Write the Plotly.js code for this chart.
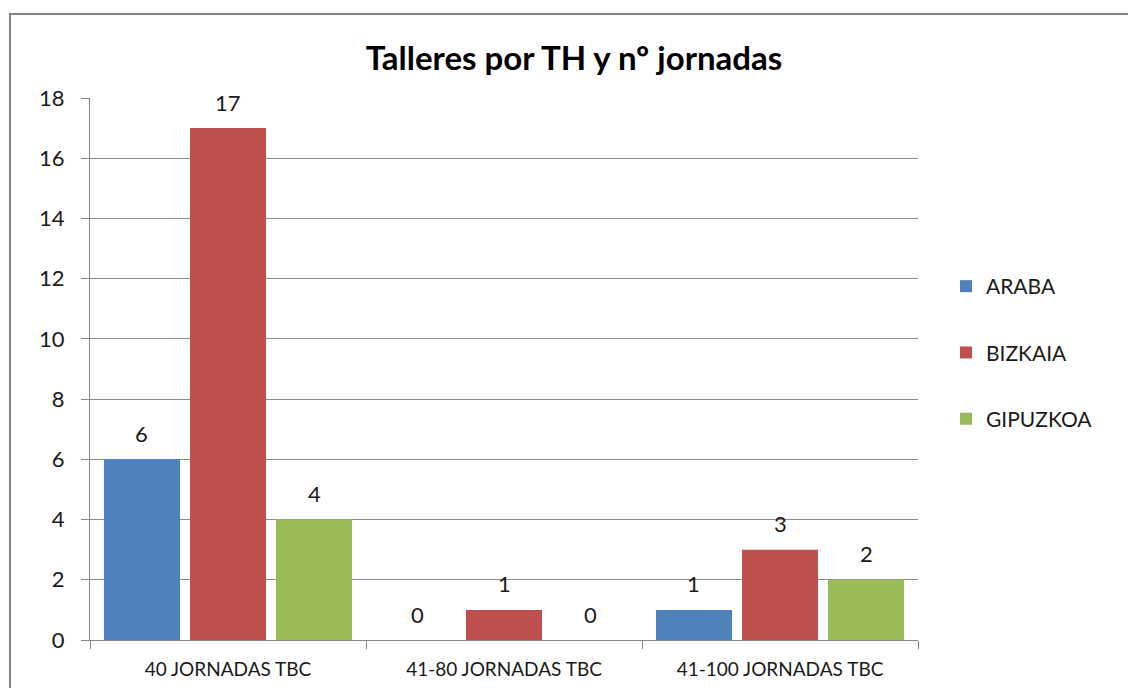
<!DOCTYPE html>
<html>
<head>
<meta charset="utf-8">
<script src="https://cdn.plot.ly/plotly-3.0.1.min.js"></script>
<style>html,body{margin:0;padding:0;background:#fff;}#chart{width:1128px;height:688px;}</style>
</head>
<body>
<div id="chart"></div>
<script>
const categories = ["40 JORNADAS TBC", "41-80 JORNADAS TBC", "41-100 JORNADAS TBC"];
const seriesNames = ["ARABA", "BIZKAIA", "GIPUZKOA"];
const araba = [6, 0, 1];
const bizkaia = [17, 1, 3];
const gipuzkoa = [4, 0, 2];
const yTicks = [0, 2, 4, 6, 8, 10, 12, 14, 16, 18];

const seriesValues = [araba, bizkaia, gipuzkoa];
const colors = ["#4F81BD", "#C0504D", "#9BBB59"];
const font = "Lato, 'Open Sans', sans-serif";

const W = 1128, H = 688;
const margin = {l: 90, r: 210, t: 98, b: 48};
const plotW = W - margin.l - margin.r;
const plotH = H - margin.t - margin.b;
const bargap = 0.065, bargroupgap = 0.116;
const slot = plotW / categories.length * (1 - bargap) / seriesValues.length;

const traces = seriesValues.map((vals, i) => ({
  type: "bar",
  name: seriesNames[i],
  x: categories,
  y: vals,
  marker: {color: colors[i]},
  legendgroup: "g" + i,
  hoverinfo: "x+y+name"
}));

const annotations = [];
seriesValues.forEach((vals, i) => {
  vals.forEach((v, j) => {
    annotations.push({
      x: categories[j], y: v, xref: "x", yref: "y",
      text: String(v), showarrow: false,
      xshift: (i - (seriesValues.length - 1) / 2) * slot,
      yshift: 26, yanchor: "middle", xanchor: "center",
      font: {family: font, size: 22, color: "#1a1a1a"}
    });
  });
});

const px2x = p => (p - margin.l) / plotW;
const px2y = p => (H - margin.b - p) / plotH;

const layout = {
  width: W, height: H,
  margin: margin,
  paper_bgcolor: "#ffffff",
  plot_bgcolor: "#ffffff",
  title: {
    text: "<b>Talleres por TH y nº jornadas</b>",
    font: {family: font, size: 33, color: "#000"},
    xref: "container", x: 574 / W, xanchor: "center",
    yref: "container", y: 1 - 58 / H, yanchor: "middle"
  },
  barmode: "group",
  bargap: bargap,
  bargroupgap: bargroupgap,
  showlegend: true,
  legend: {
    x: px2x(946), xanchor: "left",
    y: px2y(266), yanchor: "top",
    traceorder: "grouped",
    tracegroupgap: 36,
    itemwidth: 30,
    font: {family: font, size: 21, color: "#1a1a1a"},
    bgcolor: "rgba(0,0,0,0)"
  },
  xaxis: {
    type: "category",
    showgrid: false,
    showline: true, linecolor: "#868686", linewidth: 1,
    ticks: "outside", tickson: "boundaries", ticklen: 8, tickcolor: "#868686",
    ticklabelstandoff: 12,
    tickfont: {family: font, size: 19, color: "#1a1a1a"},
    fixedrange: true
  },
  yaxis: {
    range: [0, 18],
    tickvals: yTicks,
    ticktext: yTicks.map(String),
    showgrid: true, gridcolor: "#8c8c8c", gridwidth: 1,
    showline: true, linecolor: "#868686", linewidth: 1,
    zeroline: false,
    ticks: "outside", ticklen: 8, tickcolor: "#868686",
    ticklabelstandoff: 12,
    tickfont: {family: font, size: 22, color: "#1a1a1a"},
    fixedrange: true
  },
  annotations: annotations,
  shapes: [{
    type: "rect", xref: "paper", yref: "paper",
    x0: px2x(10), x1: px2x(1140), y0: px2y(700), y1: px2y(14),
    line: {color: "#868686", width: 2}, fillcolor: "rgba(0,0,0,0)", layer: "below"
  }]
};

Plotly.newPlot("chart", traces, layout, {displayModeBar: false, staticPlot: true});
</script>
</body>
</html>
